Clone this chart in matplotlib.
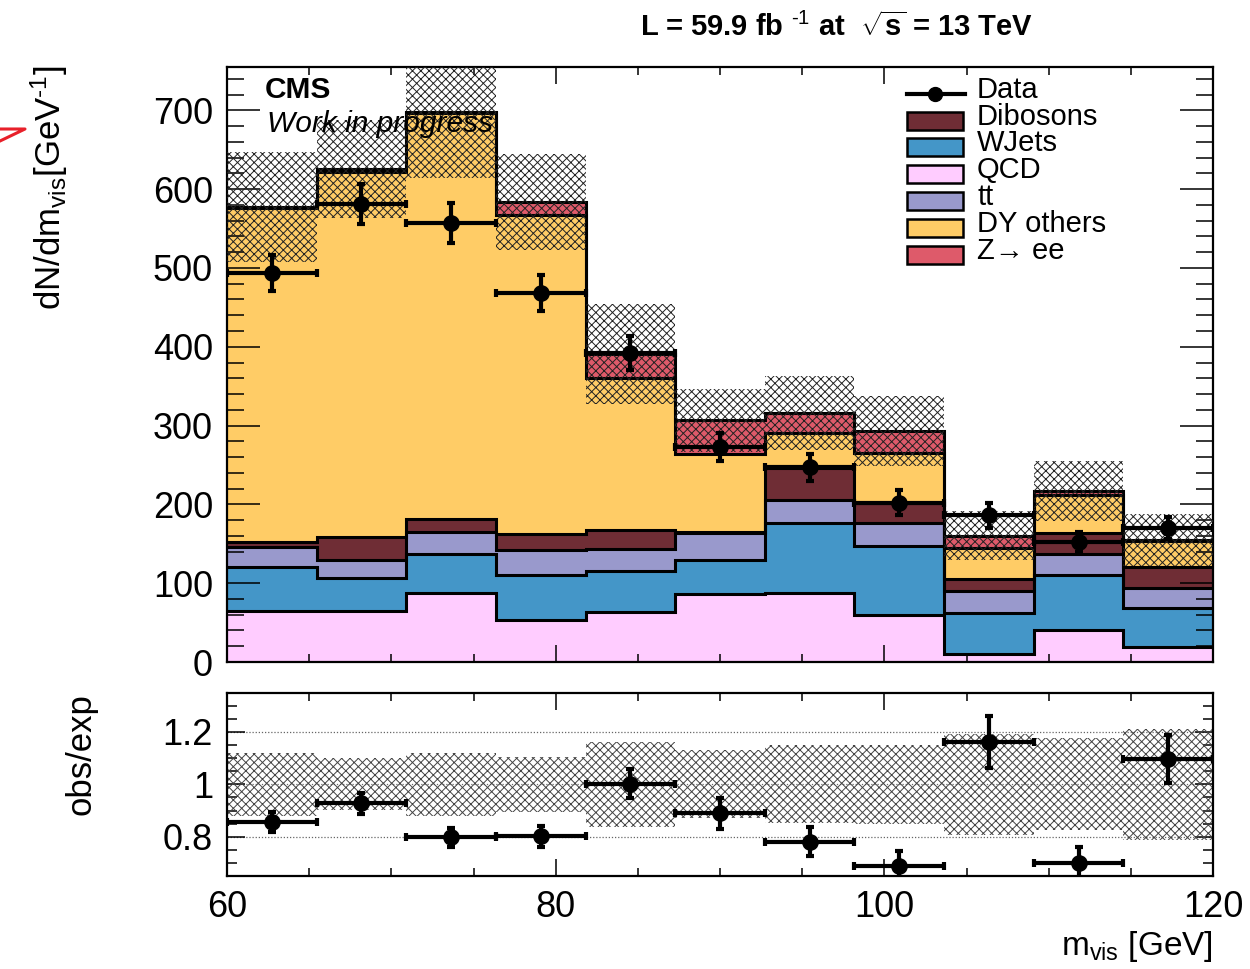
import numpy as np
import matplotlib
matplotlib.use("Agg")
import matplotlib.pyplot as plt
from matplotlib.patches import Rectangle
from matplotlib.lines import Line2D
from matplotlib.ticker import MultipleLocator, FixedLocator, FormatStrFormatter

plt.rcParams["font.family"] = ["Liberation Sans", "DejaVu Sans"]
plt.rcParams["mathtext.fontset"] = "custom"
plt.rcParams["mathtext.rm"] = "Liberation Sans"
plt.rcParams["mathtext.it"] = "Liberation Sans:italic"
plt.rcParams["mathtext.bf"] = "Liberation Sans:bold"
plt.rcParams["hatch.linewidth"] = 0.7

# ---- binning (m_vis, GeV) ----
x_min, x_max, n_bins = 60.0, 120.0, 11
edges = np.linspace(x_min, x_max, n_bins + 1)

# ---- background components, dN/dm_vis per bin ----
qcd      = [65, 65, 87, 53, 64, 86, 87, 60, 10, 40, 19]
wjets    = [55, 42, 50, 58, 51, 44, 89, 87, 52, 71, 50]
ttbar    = [26, 23, 28, 31, 29, 34, 29, 29, 28, 26, 25]
dibosons = [6, 28, 16, 21, 24, 1, 41, 26, 15, 27, 27]
dy_other = [424, 464, 516, 404, 192, 99, 45, 63, 40, 48, 32]
z_ee     = [1, 4, 1, 17, 31, 43, 25, 28, 15, 5, 2]

# total background uncertainty (absolute)
bkg_unc = [70, 62, 84, 61, 63, 40, 47, 44, 31, 38, 33]

# ---- observed data ----
data     = [494, 581, 557, 468, 392, 273, 247, 202, 186, 152, 170]
data_err = [23, 25, 25, 23, 22, 18, 17, 16, 16, 13, 14]

# stacking order (bottom -> top) and colours
stack = [
    ("QCD", qcd, "#FFCCFF"),
    ("WJets", wjets, "#4496C8"),
    ("tt", ttbar, "#9999CC"),
    ("Dibosons", dibosons, "#6F2D35"),
    ("DY others", dy_other, "#FFCC66"),
    ("Z\u2192 ee", z_ee, "#DE5A6A"),
]
legend_order = ["Dibosons", "WJets", "QCD", "tt", "DY others", "Z\u2192 ee"]

W, H = 1250, 969


def fx(px):
    return px / W


def fy(py):
    return 1 - py / H


fig = plt.figure(figsize=(W / 100, H / 100), dpi=100)
ax = fig.add_axes([fx(227), fy(662), (1213 - 227) / W, (662 - 67) / H])
rax = fig.add_axes([fx(227), fy(876), (1213 - 227) / W, (876 - 692.7) / H])

centers = 0.5 * (edges[:-1] + edges[1:])
half_w = 0.5 * (edges[1] - edges[0])

# ---- stacked histogram ----
cum = np.zeros(n_bins)
tops = []
for name, vals, col in stack:
    top = cum + np.asarray(vals, float)
    ax.stairs(top, edges, baseline=cum.copy(), fill=True, color=col, lw=0, zorder=1)
    tops.append(top)
    cum = top
for top in tops:
    ax.stairs(top, edges, baseline=None, color="black", lw=2.2, zorder=2)

total = cum
unc = np.asarray(bkg_unc, float)
ax.stairs(total + unc, edges, baseline=total - unc, fill=True, facecolor="none",
          edgecolor="#222222", hatch="xxxx", lw=0, zorder=3)

ax.errorbar(centers, data, xerr=half_w, yerr=data_err, fmt="o", color="black",
            ms=11, lw=3, capsize=3, capthick=3, zorder=5)

ax.set_xlim(x_min, x_max)
ax.set_ylim(0, 755)
ax.xaxis.set_major_locator(MultipleLocator(20))
ax.xaxis.set_minor_locator(MultipleLocator(5))
ax.yaxis.set_major_locator(MultipleLocator(100))
ax.yaxis.set_minor_locator(MultipleLocator(20))
ax.tick_params(axis="both", which="both", direction="in", top=True, right=True,
               width=1.1)
ax.tick_params(axis="y", which="major", length=24, labelsize=26, pad=10)
ax.tick_params(axis="y", which="minor", length=12)
ax.tick_params(axis="x", which="major", length=12, labelbottom=False)
ax.tick_params(axis="x", which="minor", length=6)
for s in ax.spines.values():
    s.set_linewidth(1.6)

# ---- ratio panel ----
ratio = np.asarray(data, float) / total
ratio_err = np.asarray(data_err, float) / total
rel = unc / total
rax.stairs(1 + rel, edges, baseline=1 - rel, fill=True, facecolor="none",
           edgecolor="#444444", hatch="xxxx", lw=0, zorder=2)
for yv in (0.8, 1.0, 1.2):
    rax.axhline(yv, color="#666666", lw=0.9, ls=(0, (1, 1.5)), zorder=1)
rax.errorbar(centers, ratio, xerr=half_w, yerr=ratio_err, fmt="o", color="black",
             ms=11, lw=3, capsize=3, capthick=3, zorder=5)
rax.set_xlim(x_min, x_max)
rax.set_ylim(0.65, 1.35)
rax.yaxis.set_major_locator(FixedLocator([0.8, 1.0, 1.2]))
rax.yaxis.set_major_formatter(FormatStrFormatter("%g"))
rax.yaxis.set_minor_locator(MultipleLocator(0.05))
rax.xaxis.set_major_locator(MultipleLocator(20))
rax.xaxis.set_minor_locator(MultipleLocator(5))
rax.tick_params(axis="both", which="both", direction="in", top=True, right=True,
                width=1.1)
rax.tick_params(axis="y", which="major", length=13, labelsize=26, pad=10)
rax.tick_params(axis="y", which="minor", length=7)
rax.tick_params(axis="x", which="major", length=12, labelsize=26, pad=10)
rax.tick_params(axis="x", which="minor", length=6)
for s in rax.spines.values():
    s.set_linewidth(1.6)

# ---- legend ----
leg_box_x0, leg_box_x1 = 907, 963
text_x = 977
row_y = {"Data": 94, "Dibosons": 121, "WJets": 147, "QCD": 174, "tt": 201,
         "DY others": 228, "Z\u2192 ee": 255}
colors = {name: col for name, _, col in stack}
dy_px = row_y["Data"]
fig.add_artist(Line2D([fx(leg_box_x0), fx(leg_box_x1 + 2)], [fy(dy_px), fy(dy_px)],
                      color="black", lw=3))
fig.add_artist(Line2D([fx(935)], [fy(dy_px)], marker="o", ms=10, color="black"))
fig.text(fx(text_x), fy(dy_px + 4), "Data", fontsize=21, va="baseline", ha="left")
for name in legend_order:
    yc = row_y[name]
    fig.add_artist(Rectangle((fx(leg_box_x0), fy(yc + 9)), (leg_box_x1 - leg_box_x0) / W,
                             18 / H, facecolor=colors[name], edgecolor="black",
                             lw=1.8, transform=fig.transFigure))
    fig.text(fx(text_x), fy(yc + 4), name, fontsize=21, va="baseline", ha="left")

# ---- labels and annotations ----
fig.text(fx(265), fy(98), "CMS", fontsize=21.5, fontweight="bold", va="baseline")
fig.text(fx(267), fy(132), "Work in progress", fontsize=21.5, style="italic",
         va="baseline")
fig.text(fx(1033), fy(36),
         r"L = 59.9 fb $^{\mathbf{\text{-1}}}$ at  $\sqrt{\mathbf{s}}$ = 13 TeV",
         fontsize=21, fontweight="bold", ha="right", va="baseline")
fig.text(fx(49), fy(65), r"dN/dm$_{\rm vis}$[GeV$^{\text{-1}}$]", fontsize=25,
         rotation=90, ha="center", va="top")
fig.text(fx(81), fy(693), "obs/exp", fontsize=25, rotation=90, ha="center", va="top")
fig.text(fx(1213), fy(955), r"m$_{\rm vis}$ [GeV]", fontsize=24, ha="right",
         va="baseline")

# red pen mark at the left margin
fig.add_artist(Line2D([fx(0), fx(25), fx(0)], [fy(129), fy(129), fy(141)],
                      color="#E8202A", lw=2.2))

fig.savefig("out.png", dpi=100)
